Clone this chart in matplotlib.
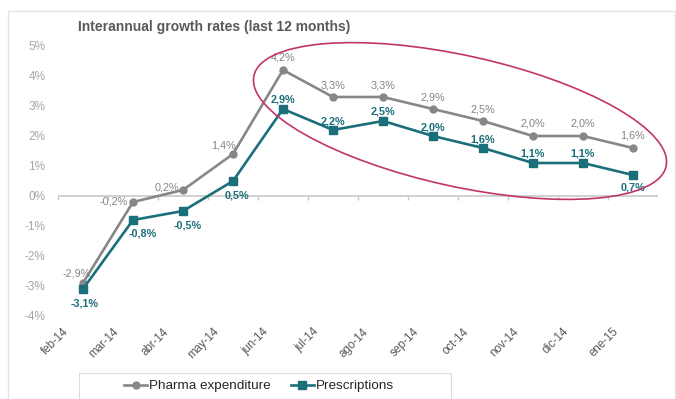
import matplotlib.pyplot as plt
import numpy as np
from matplotlib.patches import Ellipse, Rectangle
from matplotlib.lines import Line2D
from matplotlib.transforms import Affine2D, ScaledTranslation

plt.rcParams['font.family'] = ['Liberation Sans', 'DejaVu Sans']

months = ['feb-14', 'mar-14', 'abr-14', 'may-14', 'jun-14', 'jul-14',
          'ago-14', 'sep-14', 'oct-14', 'nov-14', 'dic-14', 'ene-15']
pharma = [-2.9, -0.2, 0.2, 1.4, 4.2, 3.3, 3.3, 2.9, 2.5, 2.0, 2.0, 1.6]
prescriptions = [-3.1, -0.8, -0.5, 0.5, 2.9, 2.2, 2.5, 2.0, 1.6, 1.1, 1.1, 0.7]
yticks = [-4, -3, -2, -1, 0, 1, 2, 3, 4, 5]

GRAY = '#878787'
TEAL = '#1b6f7b'

# label offsets in pixels (dx, dy)
pharma_off = [(-6, 10), (-19, 0), (-16, 2), (-9, 9)] + [(0, 12)] * 8
presc_off = [(2, -15), (10, -14), (5, -14), (4, -14)] + [(0, 9)] * 7 + [(0, -12)]

W, H = 676, 399
fig = plt.figure(figsize=(W / 100, H / 100), dpi=100)
ax = fig.add_axes([58 / W, 1 - 316 / H, 600 / W, 270 / H])

x = np.arange(len(months))
ax.plot(x, pharma, color=GRAY, lw=1.9, marker='o', ms=5, zorder=3,
        label='Pharma expenditure')
ax.plot(x, prescriptions, color=TEAL, lw=1.9, marker='s', ms=5.5, zorder=3,
        label='Prescriptions')

for xi, v, off in zip(x, pharma, pharma_off):
    ax.annotate(f'{v:.1f}%'.replace('.', ','), (xi, v), xytext=off,
                textcoords='offset pixels', ha='center', va='center',
                fontsize=7.8, color='#858585')
for xi, v, off in zip(x, prescriptions, presc_off):
    ax.annotate(f'{v:.1f}%'.replace('.', ','), (xi, v), xytext=off,
                textcoords='offset pixels', ha='center', va='center',
                fontsize=7.8, color=TEAL, fontweight='bold')

ax.set_xlim(-0.5, len(months) - 0.5)
ax.set_ylim(-4, 5)

# zero line with category boundary ticks
ax.axhline(0, color='#c8c8c8', lw=1.2, zorder=1)
ax.vlines(np.arange(len(months) + 1) - 0.5, -0.13, 0, color='#c8c8c8', lw=1.0)

for s in ax.spines.values():
    s.set_visible(False)

ax.set_yticks(yticks)
ax.set_yticklabels([f'{t}%' for t in yticks])
ax.tick_params(axis='y', length=0, pad=9, labelsize=8.5, labelcolor='#a6a6a6')

ax.set_xticks(x)
ax.set_xticklabels(months, rotation=45, ha='right')
ax.tick_params(axis='x', length=0, pad=7, labelsize=8.3, labelcolor='#595959')
shift = ScaledTranslation(-12 / 100, 0, fig.dpi_scale_trans)
for lbl in ax.get_xticklabels():
    lbl.set_transform(lbl.get_transform() + shift)

fig.text(78 / W, 1 - 27 / H, 'Interannual growth rates (last 12 months)',
         ha='left', va='center', fontsize=10, fontweight='bold', color='#595959')

# pixel space, origin at the top-left corner
px = Affine2D().scale(1, -1).translate(0, H)

fig.patches.append(Rectangle((8, 11), W - 9, H, transform=px, fill=False,
                             ec='#e4e4e4', lw=1.0))
fig.patches.append(Ellipse((460, 121), 422, 131, angle=12.4, transform=px,
                           fill=False, ec='#c3346c', lw=1.2))

# legend box
fig.patches.append(Rectangle((79, 373), 372, 40, transform=px, fill=False,
                             ec='#dcdcdc', lw=0.8))
handles = [Line2D([], [], color=GRAY, lw=1.9, marker='o', ms=5),
           Line2D([], [], color=TEAL, lw=1.9, marker='s', ms=5.5)]
leg = fig.legend(handles, ['Pharma expenditure', 'Prescriptions'],
                 loc='center', bbox_to_anchor=(259 / W, 1 - 386 / H),
                 ncol=2, frameon=False, borderaxespad=0, borderpad=0,
                 handlelength=1.7, handletextpad=0.15, columnspacing=1.5,
                 prop={'size': 9.7})
for t in leg.get_texts():
    t.set_color('#262626')

fig.savefig('out.png', dpi=100)
